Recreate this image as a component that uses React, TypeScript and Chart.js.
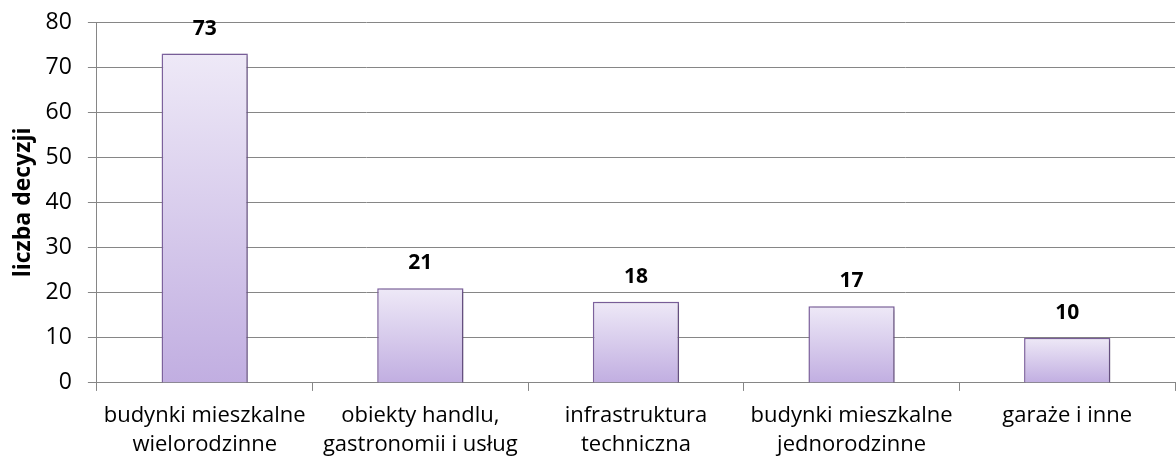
import React, { useEffect, useRef } from "react";
import { Chart, registerables } from "chart.js";
Chart.register(...registerables);

const categories: string[][] = [
  ["budynki mieszkalne", "wielorodzinne"],
  ["obiekty handlu,", "gastronomii i usług"],
  ["infrastruktura", "techniczna"],
  ["budynki mieszkalne", "jednorodzinne"],
  ["garaże i inne"],
];
const values: number[] = [73, 21, 18, 17, 10];
const yMin = 0;
const yMax = 80;
const yStep = 10;
const yTitle = "liczba decyzji";

const FONT = "'Open Sans', Lato, sans-serif";

const barExtras = {
  id: "barExtras",
  beforeDatasetsDraw(chart: any) {
    const ctx = chart.ctx;
    ctx.save();
    ctx.shadowColor = "rgba(0,0,0,0.28)";
    ctx.shadowBlur = 4;
    ctx.shadowOffsetX = 2;
    ctx.shadowOffsetY = 1;
  },
  afterDatasetsDraw(chart: any) {
    const ctx = chart.ctx;
    ctx.restore();
    ctx.save();
    ctx.font = `bold 21px ${FONT}`;
    ctx.fillStyle = "#000";
    ctx.textAlign = "center";
    ctx.textBaseline = "alphabetic";
    const meta = chart.getDatasetMeta(0);
    meta.data.forEach((el: any, i: number) => {
      ctx.fillText(String(chart.data.datasets[0].data[i]), el.x, el.y - 19);
    });
    ctx.restore();
  },
};

export default function App() {
  const ref = useRef<HTMLCanvasElement>(null);
  useEffect(() => {
    if (!ref.current) return;
    const chart = new Chart(ref.current, {
      type: "bar",
      data: {
        labels: categories,
        datasets: [
          {
            data: values,
            backgroundColor: (c: any) => {
              const ch = c.chart;
              if (!ch.chartArea || c.type !== "data" || !ch.scales.y) return "#D8CCEE";
              const y = ch.scales.y;
              const top = y.getPixelForValue(c.raw);
              const base = y.getPixelForValue(0);
              const g = ch.ctx.createLinearGradient(0, top, 0, base);
              g.addColorStop(0, "#EEE9F7");
              g.addColorStop(1, "#C1AEE1");
              return g;
            },
            borderColor: "#8064A2",
            borderWidth: 1.5,
            barPercentage: 0.4,
            categoryPercentage: 1,
          },
        ],
      },
      options: {
        responsive: false,
        animation: false,
        maintainAspectRatio: false,
        layout: { padding: { top: 22, left: 10, right: 1, bottom: -8 } },
        plugins: {
          legend: { display: false },
          tooltip: { enabled: false },
        },
        scales: {
          x: {
            grid: {
              offset: true,
              drawOnChartArea: false,
              color: "#868686",
              tickLength: 8,
            },
            border: { color: "#868686", width: 1 },
            ticks: {
              color: "#000",
              font: { family: FONT, size: 22, lineHeight: 1.32 },
              padding: 10,
              maxRotation: 0,
              autoSkip: false,
            },
          },
          y: {
            min: yMin,
            max: yMax,
            grid: { color: "#868686", tickLength: 9 },
            border: { color: "#868686", width: 1 },
            ticks: {
              stepSize: yStep,
              color: "#000",
              font: { family: FONT, size: 23, lineHeight: 0.2 },
              padding: 16,
            },
            title: {
              display: true,
              text: yTitle,
              color: "#000",
              font: { family: FONT, size: 23, weight: "bold" },
              padding: { top: 0, bottom: -8 },
            },
          },
        },
      },
      plugins: [barExtras],
    });
    return () => chart.destroy();
  }, []);
  return (
    <div style={{ position: "absolute", left: 0, top: 0, width: 1176, height: 461, background: "#fff" }}>
      <canvas ref={ref} width={1176} height={461} style={{ width: 1176, height: 461 }} />
    </div>
  );
}
